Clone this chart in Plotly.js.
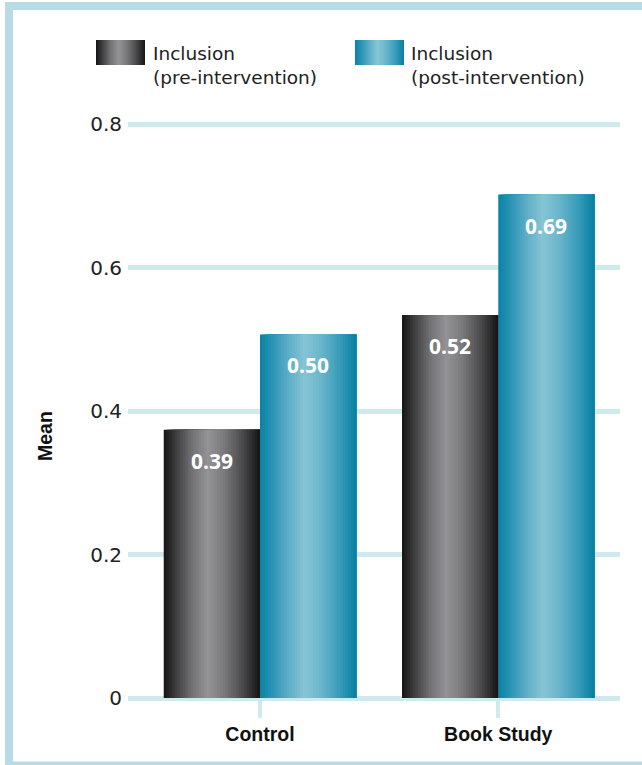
<!DOCTYPE html>
<html>
<head>
<meta charset="utf-8">
<script src="https://cdn.plot.ly/plotly-3.0.1.min.js"></script>
<style>
  html, body { margin: 0; padding: 0; background: #ffffff; }
  #chart { width: 642px; height: 765px; }
</style>
</head>
<body>
<div id="chart"></div>
<script>
// ---- data ----
const categories = ["Control", "Book Study"];
const preValues = [0.374, 0.534];
const postValues = [0.507, 0.702];
const preLabels = ["0.39", "0.52"];
const postLabels = ["0.50", "0.69"];
const yTickVals = [0, 0.2, 0.4, 0.6, 0.8];
const yTickText = ["0", "0.2", "0.4", "0.6", "0.8"];
const seriesNames = ["Inclusion<br>(pre-intervention)", "Inclusion<br>(post-intervention)"];
const yAxisTitle = "Mean";

// ---- styling / geometry ----
const W = 642, H = 765;
const M = { l: 128, r: 22, t: 110, b: 67 };
const PW = W - M.l - M.r, PH = H - M.t - M.b;
const gridColor = "#cfeaec";
const frameColor = "#b8dce6";
const barW = 0.404;
const N = 36;
const boldFamily = "Liberation Sans, Arial, sans-serif";

const preStops = [[0, "#141414"], [0.12, "#3c3c3d"], [0.3, "#747477"], [0.46, "#939397"], [0.62, "#7b7b7e"], [0.82, "#4a4a4c"], [1, "#141414"]];
const postStops = [[0, "#0a82a4"], [0.15, "#3197b8"], [0.3, "#5eafc7"], [0.46, "#85c4d4"], [0.62, "#6db7cb"], [0.82, "#3a9dbb"], [1, "#0780a2"]];

function hex2rgb(h) { return [1, 3, 5].map(i => parseInt(h.substr(i, 2), 16)); }
function gradAt(stops, t) {
  for (let i = 0; i < stops.length - 1; i++) {
    const [p0, c0] = stops[i], [p1, c1] = stops[i + 1];
    if (t >= p0 && t <= p1) {
      const f = (t - p0) / (p1 - p0);
      const a = hex2rgb(c0), b = hex2rgb(c1);
      return "rgb(" + a.map((v, j) => Math.round(v + (b[j] - v) * f)).join(",") + ")";
    }
  }
  return stops[stops.length - 1][1];
}
function svgGradient(stops) {
  const st = stops.map(s => '<stop offset="' + s[0] + '" stop-color="' + s[1] + '"/>').join("");
  const svg = '<svg xmlns="http://www.w3.org/2000/svg" width="100" height="50" preserveAspectRatio="none" viewBox="0 0 100 50">' +
    '<defs><linearGradient id="g" x1="0" y1="0" x2="1" y2="0">' + st + '</linearGradient></defs>' +
    '<rect x="0" y="0" width="100" height="50" fill="url(#g)"/></svg>';
  return "data:image/svg+xml;charset=utf-8," + encodeURIComponent(svg);
}
// pixel -> paper
const px = x => (x - M.l) / PW;
const py = y => (H - M.b - y) / PH;

// ---- traces: each bar built from overlapping slices to give a shaded look ----
const traces = [];
function addSeries(values, stops, base) {
  for (let k = 0; k < N; k++) {
    const start = base + k * barW / N;
    traces.push({
      type: "bar",
      x: categories,
      y: values,
      offset: start,
      width: barW - k * barW / N,
      marker: { color: gradAt(stops, (k + 0.5) / N), line: { width: 0 } },
      showlegend: false,
      hoverinfo: "skip"
    });
  }
}
addSeries(preValues, preStops, -barW);
addSeries(postValues, postStops, 0);

// ---- annotations ----
const annotations = [];
const labelFont = { family: "Open Sans, DejaVu Sans, sans-serif", size: 21, color: "#ffffff", weight: 700 };
categories.forEach((c, i) => {
  annotations.push({ xref: "x", yref: "y", x: i - barW / 2, y: preValues[i], yshift: -31, text: preLabels[i],
    showarrow: false, font: labelFont, xanchor: "center", yanchor: "middle" });
  annotations.push({ xref: "x", yref: "y", x: i + barW / 2, y: postValues[i], yshift: -31, text: postLabels[i],
    showarrow: false, font: labelFont, xanchor: "center", yanchor: "middle" });
});
const legFont = { family: "DejaVu Sans, sans-serif", size: 18.5, color: "#222222" };
annotations.push({ xref: "paper", yref: "paper", x: px(151), y: py(65), text: seriesNames[0], showarrow: false,
  xanchor: "left", yanchor: "middle", align: "left", font: legFont });
annotations.push({ xref: "paper", yref: "paper", x: px(409), y: py(65), text: seriesNames[1], showarrow: false,
  xanchor: "left", yanchor: "middle", align: "left", font: legFont });
annotations.push({ xref: "paper", yref: "paper", x: px(45), y: py(436), text: yAxisTitle, textangle: -90, showarrow: false,
  xanchor: "center", yanchor: "middle",
  font: { family: boldFamily, size: 19.5, color: "#111111", weight: 700 } });

// ---- legend swatches & frame ----
const images = [
  { source: svgGradient(preStops), xref: "paper", yref: "paper", x: px(96), y: py(40), sizex: 49 / PW, sizey: 25 / PH,
    xanchor: "left", yanchor: "top", sizing: "stretch", layer: "above" },
  { source: svgGradient(postStops), xref: "paper", yref: "paper", x: px(355), y: py(40), sizex: 49 / PW, sizey: 25 / PH,
    xanchor: "left", yanchor: "top", sizing: "stretch", layer: "above" }
];
const frame = (x0, y0, x1, y1) => ({ type: "rect", xref: "paper", yref: "paper", x0: px(x0), x1: px(x1), y0: py(y0), y1: py(y1),
  fillcolor: frameColor, line: { width: 0 }, layer: "below" });
const shapes = [frame(5, 2, 645, 10), frame(5, 2, 13, 768), frame(5, 761.5, 645, 768)];

const layout = {
  width: W, height: H,
  margin: M,
  paper_bgcolor: "#ffffff", plot_bgcolor: "rgba(0,0,0,0)",
  barmode: "overlay",
  showlegend: false,
  xaxis: {
    type: "category",
    range: [-0.554, 1.511],
    showgrid: false, zeroline: false, showline: false,
    ticks: "outside", ticklen: 19, tickwidth: 4, tickcolor: gridColor,
    ticklabelstandoff: 0,
    tickfont: { family: boldFamily, size: 19.5, color: "#111111", weight: 700 },
    fixedrange: true
  },
  yaxis: {
    range: [0, 0.82],
    tickmode: "array", tickvals: yTickVals, ticktext: yTickText,
    showgrid: true, gridcolor: gridColor, gridwidth: 5,
    zeroline: true, zerolinecolor: gridColor, zerolinewidth: 5,
    showline: false, ticks: "",
    ticklabelstandoff: 5,
    tickfont: { family: "DejaVu Sans, sans-serif", size: 20, color: "#222222" },
    fixedrange: true
  },
  annotations: annotations,
  images: images,
  shapes: shapes
};

Plotly.newPlot("chart", traces, layout, { displayModeBar: false, staticPlot: true });
</script>
</body>
</html>
